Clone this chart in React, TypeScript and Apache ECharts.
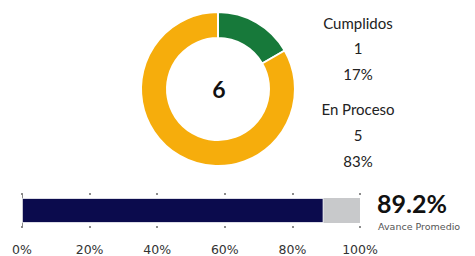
import React, { useEffect, useRef } from "react";
import * as echarts from "echarts";

const statusNames = ["Cumplidos", "En Proceso"];
const statusCounts = [1, 5];
const statusColors = ["#17793a", "#f6ad0c"];
const avance = 89.2;
const avanceLabel = "Avance Promedio";
const barCategories = ["Avance"];
const axisTicks = [0, 100, 20];

export default function App() {
  const ref = useRef<HTMLDivElement>(null);
  useEffect(() => {
    if (!ref.current) return;
    const chart = echarts.init(ref.current, null, { renderer: "svg" });
    const total = statusCounts.reduce((a, b) => a + b, 0);
    const font = "Lato, 'Open Sans', sans-serif";
    const wide = "'DejaVu Sans', sans-serif";
    const legendTexts: any[] = [];
    const ys = [[23, 48, 74], [109, 135, 161]];
    statusNames.forEach((n, i) => {
      const vals = [n, String(statusCounts[i]), Math.round((statusCounts[i] / total) * 100) + "%"];
      vals.forEach((t, j) => {
        legendTexts.push({
          type: "text",
          x: 358,
          y: ys[i][j],
          style: {
            text: t,
            fontSize: 15,
            fontFamily: font,
            fill: "#222",
            align: "center",
            verticalAlign: "middle",
          },
        });
      });
    });
    chart.setOption({
      animation: false,
      graphic: [
        ...legendTexts,
        {
          type: "text",
          x: 219,
          y: 89,
          style: {
            text: String(total),
            fontSize: 23,
            fontWeight: "bold",
            fontFamily: font,
            fill: "#111",
            align: "center",
            verticalAlign: "middle",
          },
        },
        {
          type: "text",
          x: 377,
          y: 203,
          style: {
            text: avance.toFixed(1) + "%",
            fontSize: 25,
            fontWeight: "bold",
            fontFamily: font,
            fill: "#111",
            align: "left",
            verticalAlign: "middle",
          },
        },
        {
          type: "text",
          x: 378,
          y: 226,
          style: {
            text: avanceLabel,
            fontSize: 9.5,
            fontFamily: wide,
            fill: "#555",
            align: "left",
            verticalAlign: "middle",
          },
        },
      ],
      grid: { left: 22, right: 115, top: 195, height: 31 },
      xAxis: [
        {
          type: "value",
          position: "bottom",
          min: axisTicks[0],
          max: axisTicks[1],
          interval: axisTicks[2],
          axisLine: { show: false },
          axisTick: { show: true, length: 2, lineStyle: { color: "#666", width: 1.5 } },
          splitLine: { show: false },
          axisLabel: {
            formatter: "{value}%",
            margin: 17,
            fontSize: 12.5,
            fontFamily: wide,
            color: "#333",
          },
        },
        {
          type: "value",
          position: "top",
          min: axisTicks[0],
          max: axisTicks[1],
          interval: axisTicks[2],
          axisLine: { show: false },
          axisTick: { show: true, length: 2, lineStyle: { color: "#666", width: 1.5 } },
          splitLine: { show: false },
          axisLabel: { show: false },
        },
      ],
      yAxis: {
        type: "category",
        data: barCategories,
        axisLine: { show: true, lineStyle: { color: "#888", width: 1 } },
        axisTick: { show: false },
        axisLabel: { show: false },
      },
      series: [
        {
          type: "pie",
          center: [218, 89],
          radius: [51, 77],
          startAngle: 90,
          clockwise: true,
          label: { show: false },
          labelLine: { show: false },
          silent: true,
          itemStyle: { borderColor: "#fff", borderWidth: 2 },
          data: statusNames.map((n, i) => ({
            name: n,
            value: statusCounts[i],
            itemStyle: { color: statusColors[i] },
          })),
        },
        {
          type: "bar",
          stack: "a",
          barWidth: 25,
          data: [avance],
          itemStyle: { color: "#0b0b4d", borderColor: "#fff", borderWidth: 0.8 },
          silent: true,
        },
        {
          type: "bar",
          stack: "a",
          barWidth: 25,
          data: [100 - avance],
          itemStyle: { color: "#c8c9cb" },
          silent: true,
        },
      ],
    });
    return () => chart.dispose();
  }, []);
  return (
    <div
      ref={ref}
      style={{ position: "fixed", left: 0, top: 0, width: 475, height: 256, background: "#fff" }}
    />
  );
}
